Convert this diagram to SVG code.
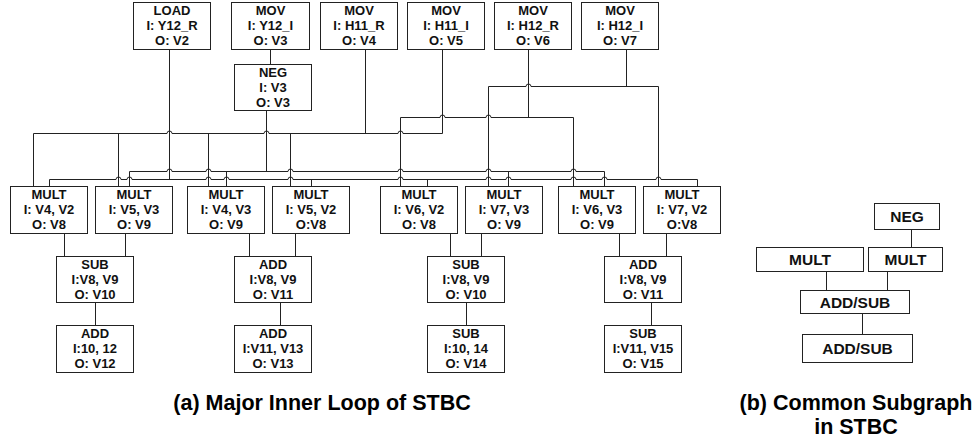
<svg xmlns="http://www.w3.org/2000/svg" width="979" height="442" viewBox="0 0 979 442">
<style>
.b{fill:#fff;stroke:#222;stroke-width:1}
.t{font-family:"Liberation Sans",Arial,sans-serif;font-weight:bold;font-size:13px;fill:#111;text-anchor:middle}
.t2{font-family:"Liberation Sans",Arial,sans-serif;font-weight:bold;font-size:15.5px;fill:#111;text-anchor:middle}
.cap{font-family:"Liberation Sans",Arial,sans-serif;font-weight:bold;font-size:21.5px;fill:#000;text-anchor:middle}
.c path,.c line{fill:none;stroke:#222;stroke-width:1}
</style>
<rect width="979" height="442" fill="#fff"/>
<g class="c" id="connectors">
<line x1="169.5" y1="49.5" x2="169.5" y2="179.5"/>
<line x1="270.5" y1="49.5" x2="270.5" y2="64.5"/>
<line x1="266.5" y1="110.5" x2="266.5" y2="171.5"/>
<line x1="365.5" y1="49.5" x2="365.5" y2="133.5"/>
<line x1="442.5" y1="49.5" x2="442.5" y2="133.5"/>
<line x1="528.5" y1="49.5" x2="528.5" y2="117.5"/>
<line x1="626.5" y1="49.5" x2="626.5" y2="86.5"/>
<path d="M33.5 133.5H167a2.5 2.5 0 0 1 5 0H264a2.5 2.5 0 0 1 5 0H398a2.5 2.5 0 0 1 5 0H442.5"/>
<line x1="33.5" y1="133.5" x2="33.5" y2="186.5"/>
<line x1="118.5" y1="133.5" x2="118.5" y2="186.5"/>
<line x1="208.5" y1="133.5" x2="208.5" y2="186.5"/>
<line x1="290.5" y1="133.5" x2="290.5" y2="186.5"/>
<path d="M400.5 117.5H440a2.5 2.5 0 0 1 5 0H486a2.5 2.5 0 0 1 5 0H573.5"/>
<line x1="400.5" y1="117.5" x2="400.5" y2="186.5"/>
<line x1="573.5" y1="117.5" x2="573.5" y2="186.5"/>
<path d="M488.5 86.5H526a2.5 2.5 0 0 1 5 0H658.5"/>
<line x1="488.5" y1="86.5" x2="488.5" y2="186.5"/>
<line x1="658.5" y1="86.5" x2="658.5" y2="186.5"/>
<path d="M129.5 171.5H167a2.5 2.5 0 0 1 5 0H206a2.5 2.5 0 0 1 5 0H288a2.5 2.5 0 0 1 5 0H398a2.5 2.5 0 0 1 5 0H486a2.5 2.5 0 0 1 5 0H571a2.5 2.5 0 0 1 5 0H604.5"/>
<line x1="129.5" y1="171.5" x2="129.5" y2="186.5"/>
<line x1="226.5" y1="171.5" x2="226.5" y2="186.5"/>
<line x1="508.5" y1="171.5" x2="508.5" y2="186.5"/>
<line x1="604.5" y1="171.5" x2="604.5" y2="186.5"/>
<path d="M49.5 179.5H116a2.5 2.5 0 0 1 5 0H127a2.5 2.5 0 0 1 5 0H206a2.5 2.5 0 0 1 5 0H224a2.5 2.5 0 0 1 5 0H288a2.5 2.5 0 0 1 5 0H398a2.5 2.5 0 0 1 5 0H486a2.5 2.5 0 0 1 5 0H506a2.5 2.5 0 0 1 5 0H571a2.5 2.5 0 0 1 5 0H602a2.5 2.5 0 0 1 5 0H656a2.5 2.5 0 0 1 5 0H697.5"/>
<line x1="49.5" y1="179.5" x2="49.5" y2="186.5"/>
<line x1="311.5" y1="179.5" x2="311.5" y2="186.5"/>
<line x1="427.5" y1="179.5" x2="427.5" y2="186.5"/>
<line x1="697.5" y1="179.5" x2="697.5" y2="186.5"/>
<line x1="64.5" y1="233.5" x2="64.5" y2="256.5"/>
<line x1="125.5" y1="233.5" x2="125.5" y2="256.5"/>
<line x1="249.5" y1="233.5" x2="249.5" y2="256.5"/>
<line x1="295.5" y1="233.5" x2="295.5" y2="256.5"/>
<line x1="450.5" y1="233.5" x2="450.5" y2="256.5"/>
<line x1="481.5" y1="233.5" x2="481.5" y2="256.5"/>
<line x1="619.5" y1="233.5" x2="619.5" y2="256.5"/>
<line x1="666.5" y1="233.5" x2="666.5" y2="256.5"/>
<line x1="95.5" y1="302.5" x2="95.5" y2="325.5"/>
<line x1="280.5" y1="302.5" x2="280.5" y2="325.5"/>
<line x1="466.5" y1="302.5" x2="466.5" y2="325.5"/>
<line x1="651.5" y1="302.5" x2="651.5" y2="325.5"/>
<line x1="911.5" y1="229.5" x2="911.5" y2="247.5"/>
<line x1="826.5" y1="271.5" x2="826.5" y2="290.5"/>
<line x1="887.5" y1="271.5" x2="887.5" y2="290.5"/>
<line x1="862.5" y1="313.5" x2="862.5" y2="334.5"/>
</g>

<g id="load"><rect class="b" x="133.5" y="2.5" width="77" height="47"/><text class="t" x="172" y="14.5">LOAD</text><text class="t" x="172" y="29.5">I: Y12_R</text><text class="t" x="172" y="44.5">O: V2</text></g>
<g id="mov_y12i"><rect class="b" x="231.5" y="2.5" width="78" height="47"/><text class="t" x="270.5" y="14.5">MOV</text><text class="t" x="270.5" y="29.5">I: Y12_I</text><text class="t" x="270.5" y="44.5">O: V3</text></g>
<g id="neg"><rect class="b" x="234.5" y="64.5" width="77" height="46"/><text class="t" x="273" y="76.5">NEG</text><text class="t" x="273" y="91.5">I: V3</text><text class="t" x="273" y="106.5">O: V3</text></g>
<g id="mov_h11r"><rect class="b" x="320.5" y="2.5" width="77" height="47"/><text class="t" x="359" y="14.5">MOV</text><text class="t" x="359" y="29.5">I: H11_R</text><text class="t" x="359" y="44.5">O: V4</text></g>
<g id="mov_h11i"><rect class="b" x="407.5" y="2.5" width="77" height="47"/><text class="t" x="446" y="14.5">MOV</text><text class="t" x="446" y="29.5">I: H11_I</text><text class="t" x="446" y="44.5">O: V5</text></g>
<g id="mov_h12r"><rect class="b" x="494.5" y="2.5" width="77" height="47"/><text class="t" x="533" y="14.5">MOV</text><text class="t" x="533" y="29.5">I: H12_R</text><text class="t" x="533" y="44.5">O: V6</text></g>
<g id="mov_h12i"><rect class="b" x="581.5" y="2.5" width="77" height="47"/><text class="t" x="620" y="14.5">MOV</text><text class="t" x="620" y="29.5">I: H12_I</text><text class="t" x="620" y="44.5">O: V7</text></g>

<g id="mult1"><rect class="b" x="10.5" y="186.5" width="77" height="47"/><text class="t" x="49" y="198.5">MULT</text><text class="t" x="49" y="213.8">I: V4, V2</text><text class="t" x="49" y="229">O: V8</text></g>
<g id="mult2"><rect class="b" x="95.5" y="186.5" width="77" height="47"/><text class="t" x="134" y="198.5">MULT</text><text class="t" x="134" y="213.8">I: V5, V3</text><text class="t" x="134" y="229">O: V9</text></g>
<g id="mult3"><rect class="b" x="187.5" y="186.5" width="77" height="47"/><text class="t" x="226" y="198.5">MULT</text><text class="t" x="226" y="213.8">I: V4, V3</text><text class="t" x="226" y="229">O: V9</text></g>
<g id="mult4"><rect class="b" x="272.5" y="186.5" width="77" height="47"/><text class="t" x="311" y="198.5">MULT</text><text class="t" x="311" y="213.8">I: V5, V2</text><text class="t" x="311" y="229">O:V8</text></g>
<g id="mult5"><rect class="b" x="380.5" y="186.5" width="77" height="47"/><text class="t" x="419" y="198.5">MULT</text><text class="t" x="419" y="213.8">I: V6, V2</text><text class="t" x="419" y="229">O: V8</text></g>
<g id="mult6"><rect class="b" x="465.5" y="186.5" width="77" height="47"/><text class="t" x="504" y="198.5">MULT</text><text class="t" x="504" y="213.8">I: V7, V3</text><text class="t" x="504" y="229">O: V9</text></g>
<g id="mult7"><rect class="b" x="558.5" y="186.5" width="77" height="47"/><text class="t" x="597" y="198.5">MULT</text><text class="t" x="597" y="213.8">I: V6, V3</text><text class="t" x="597" y="229">O: V9</text></g>
<g id="mult8"><rect class="b" x="643.5" y="186.5" width="77" height="47"/><text class="t" x="682" y="198.5">MULT</text><text class="t" x="682" y="213.8">I: V7, V2</text><text class="t" x="682" y="229">O:V8</text></g>

<g id="sub1"><rect class="b" x="56.5" y="256.5" width="77" height="46"/><text class="t" x="95" y="268.5">SUB</text><text class="t" x="95" y="283.5">I:V8, V9</text><text class="t" x="95" y="298.5">O: V10</text></g>
<g id="add1"><rect class="b" x="234.5" y="256.5" width="77" height="46"/><text class="t" x="273" y="268.5">ADD</text><text class="t" x="273" y="283.5">I:V8, V9</text><text class="t" x="273" y="298.5">O: V11</text></g>
<g id="sub2"><rect class="b" x="427.5" y="256.5" width="77" height="46"/><text class="t" x="466" y="268.5">SUB</text><text class="t" x="466" y="283.5">I:V8, V9</text><text class="t" x="466" y="298.5">O: V10</text></g>
<g id="add2"><rect class="b" x="604.5" y="256.5" width="77" height="46"/><text class="t" x="643" y="268.5">ADD</text><text class="t" x="643" y="283.5">I:V8, V9</text><text class="t" x="643" y="298.5">O: V11</text></g>

<g id="add3"><rect class="b" x="56.5" y="325.5" width="77" height="47"/><text class="t" x="95" y="337.5">ADD</text><text class="t" x="95" y="352.5">I:10, 12</text><text class="t" x="95" y="367.5">O: V12</text></g>
<g id="add4"><rect class="b" x="234.5" y="325.5" width="77" height="47"/><text class="t" x="273" y="337.5">ADD</text><text class="t" x="273" y="352.5">I:V11, V13</text><text class="t" x="273" y="367.5">O: V13</text></g>
<g id="sub3"><rect class="b" x="427.5" y="325.5" width="77" height="47"/><text class="t" x="466" y="337.5">SUB</text><text class="t" x="466" y="352.5">I:10, 14</text><text class="t" x="466" y="367.5">O: V14</text></g>
<g id="sub4"><rect class="b" x="604.5" y="325.5" width="77" height="47"/><text class="t" x="643" y="337.5">SUB</text><text class="t" x="643" y="352.5">I:V11, V15</text><text class="t" x="643" y="367.5">O: V15</text></g>

<g id="b_neg"><rect class="b" x="874.5" y="203.5" width="65" height="26"/><text class="t2" x="907" y="222">NEG</text></g>
<g id="b_mult1"><rect class="b" x="756.5" y="247.5" width="107" height="24"/><text class="t2" x="810" y="265">MULT</text></g>
<g id="b_mult2"><rect class="b" x="868.5" y="247.5" width="74" height="24"/><text class="t2" x="905.5" y="265">MULT</text></g>
<g id="b_addsub1"><rect class="b" x="800.5" y="290.5" width="109" height="23"/><text class="t2" x="855" y="307.5">ADD/SUB</text></g>
<g id="b_addsub2"><rect class="b" x="802.5" y="334.5" width="110" height="28"/><text class="t2" x="857.5" y="354">ADD/SUB</text></g>

<text class="cap" x="322" y="410">(a) Major Inner Loop of STBC</text>
<text class="cap" x="856" y="410">(b) Common Subgraph</text>
<text class="cap" x="856" y="434">in STBC</text>
</svg>
